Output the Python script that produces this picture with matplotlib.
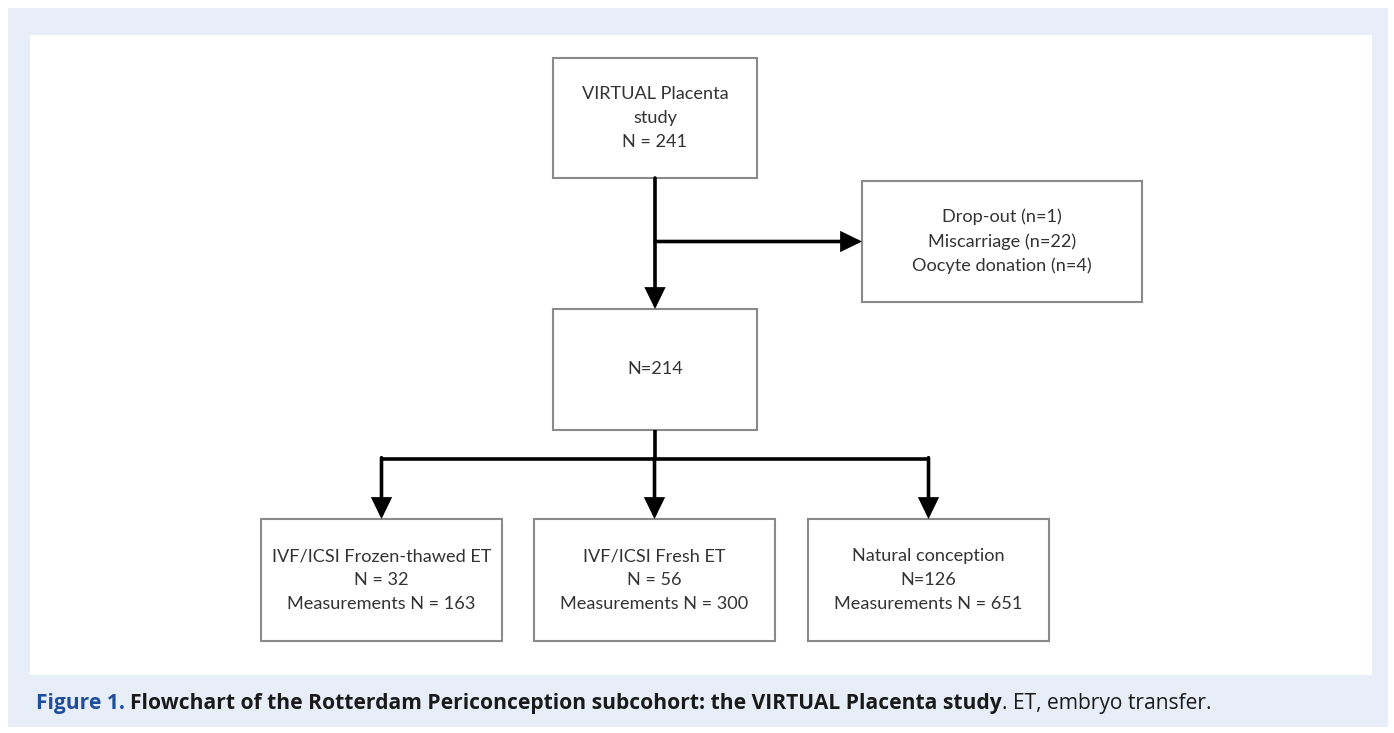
import matplotlib
matplotlib.use("Agg")
import matplotlib.pyplot as plt
from matplotlib.patches import Rectangle, FancyArrowPatch

# ---- content ----
top_label = ["VIRTUAL Placenta", "study", "N = 241"]
excluded_label = ["Drop-out (n=1)", "Miscarriage (n=22)", "Oocyte donation (n=4)"]
mid_label = ["N=214"]
group_names = ["IVF/ICSI Frozen-thawed ET", "IVF/ICSI Fresh ET", "Natural conception"]
group_n = ["N = 32", "N = 56", "N=126"]
group_meas = ["Measurements N = 163", "Measurements N = 300", "Measurements N = 651"]
caption_parts = [("Figure 1. ", "bold", "#1f4e9f"),
                 ("Flowchart of the Rotterdam Periconception subcohort: the VIRTUAL Placenta study", "bold", "#1a1a1a"),
                 (". ET, embryo transfer.", "normal", "#1a1a1a")]

# ---- layout (pixel space) ----
W, H = 1394, 733
fig = plt.figure(figsize=(W / 100, H / 100), dpi=100)
ax = fig.add_axes([0, 0, 1, 1])
ax.set_xlim(0, W)
ax.set_ylim(H, 0)
ax.axis("off")

BLUE_BG = "#e7eef8"
ax.add_patch(Rectangle((8, 8), W - 14, H - 14, facecolor=BLUE_BG, edgecolor="none", zorder=0))
ax.add_patch(Rectangle((30, 35), 1342, 640, facecolor="white", edgecolor="none", zorder=1))

BOX_EC = "#8a8a8a"
TXT = "#333333"
FONT = "Lato"
FS = 13.1


def box(x0, y0, x1, y1, lines):
    ax.add_patch(Rectangle((x0, y0), x1 - x0, y1 - y0, facecolor="white",
                           edgecolor=BOX_EC, linewidth=1.5, zorder=3))
    ax.text((x0 + x1) / 2, (y0 + y1) / 2, "\n".join(lines), ha="center", va="center",
            fontsize=FS, family=FONT, color=TXT, linespacing=1.6, zorder=4)


def arrow(p0, p1):
    ax.add_patch(FancyArrowPatch(p0, p1, arrowstyle="-|>,head_length=0.82,head_width=0.4",
                                 mutation_scale=14, color="black", linewidth=2.6,
                                 shrinkA=0, shrinkB=0, joinstyle="miter", zorder=5))


def line(xs, ys):
    ax.plot(xs, ys, color="black", linewidth=2.6, solid_capstyle="butt", zorder=5)


# boxes
top_box = (553, 58, 757, 178)
mid_box = (553, 309, 757, 430)
exc_box = (862, 181, 1142, 302)
bottom_boxes = [(261, 519, 502, 641), (534, 519, 775, 641), (808, 519, 1049, 641)]

box(*top_box, top_label)
box(*exc_box, excluded_label)
box(*mid_box, mid_label)
for b, a, n, m in zip(bottom_boxes, group_names, group_n, group_meas):
    box(*b, [a, n, m])

# connectors
cx = (top_box[0] + top_box[2]) / 2
branch_y = (exc_box[1] + exc_box[3]) / 2
arrow((cx, top_box[3]), (cx, mid_box[1]))
arrow((cx, branch_y), (exc_box[0], branch_y))

split_y = 459
centers = [(b[0] + b[2]) / 2 for b in bottom_boxes]
line([cx, cx], [mid_box[3], split_y])
line([centers[0], centers[-1]], [split_y, split_y])
for c in centers:
    arrow((c, split_y - 1.3), (c, bottom_boxes[0][1]))

# caption
fig.canvas.draw()
r = fig.canvas.get_renderer()
x = 36
cap_fam = ["Open Sans", "DejaVu Sans"]
for s, wgt, col in caption_parts:
    t = ax.text(x, 703, s, ha="left", va="center", fontsize=15.15, fontweight=wgt,
                family=cap_fam, color=col, zorder=6)
    bb = t.get_window_extent(renderer=r)
    x += bb.width

fig.savefig("out.png", dpi=100)
